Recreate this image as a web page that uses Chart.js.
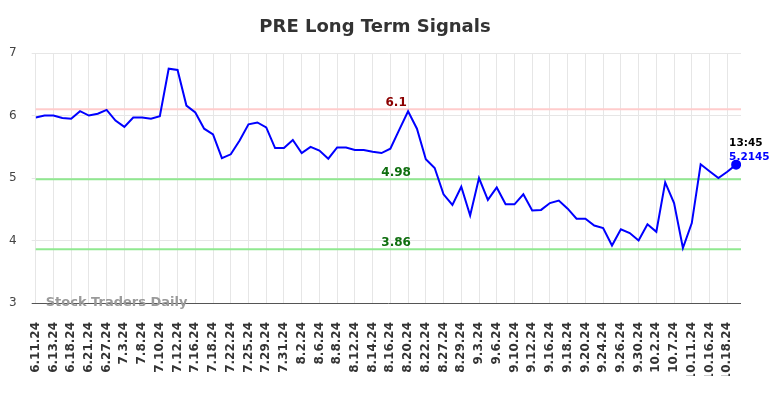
<!DOCTYPE html>
<html>
<head>
<meta charset="utf-8">
<title>PRE Long Term Signals</title>
<script src="https://cdn.jsdelivr.net/npm/chart.js@4.4.1/dist/chart.umd.min.js"></script>
<style>
    html, body { margin: 0; padding: 0; background: #fff; }
</style>
</head>
<body>
<canvas id="signalsChart" width="784" height="398"></canvas>
<script>
// dates for every point; only every second one is printed on the axis
const dates = [
    '6.11.24', '6.12.24', '6.13.24', '6.17.24', '6.18.24', '6.20.24', '6.21.24', '6.25.24',
    '6.27.24', '7.1.24', '7.3.24', '7.5.24', '7.8.24', '7.9.24', '7.10.24', '7.11.24',
    '7.12.24', '7.15.24', '7.16.24', '7.17.24', '7.18.24', '7.19.24', '7.22.24', '7.24.24',
    '7.25.24', '7.26.24', '7.29.24', '7.30.24', '7.31.24', '8.1.24', '8.2.24', '8.5.24',
    '8.6.24', '8.7.24', '8.8.24', '8.9.24', '8.12.24', '8.13.24', '8.14.24', '8.15.24',
    '8.16.24', '8.19.24', '8.20.24', '8.21.24', '8.22.24', '8.26.24', '8.27.24', '8.28.24',
    '8.29.24', '8.30.24', '9.3.24', '9.5.24', '9.6.24', '9.9.24', '9.10.24', '9.11.24',
    '9.12.24', '9.13.24', '9.16.24', '9.17.24', '9.18.24', '9.19.24', '9.20.24', '9.23.24',
    '9.24.24', '9.25.24', '9.26.24', '9.27.24', '9.30.24', '10.1.24', '10.2.24', '10.4.24',
    '10.7.24', '10.9.24', '10.11.24', '10.14.24', '10.16.24', '10.17.24', '10.18.24', '10.21.24'
];

const prices = [
    5.97, 6.00, 6.00, 5.96, 5.95, 6.07, 6.00, 6.03, 6.09, 5.92,
    5.82, 5.97, 5.97, 5.95, 5.99, 6.75, 6.73, 6.16, 6.05, 5.79,
    5.70, 5.32, 5.38, 5.60, 5.86, 5.89, 5.81, 5.48, 5.48, 5.61,
    5.40, 5.50, 5.44, 5.31, 5.49, 5.49, 5.45, 5.45, 5.42, 5.40,
    5.47, 5.77, 6.07, 5.79, 5.30, 5.16, 4.74, 4.57, 4.86, 4.40,
    5.00, 4.65, 4.85, 4.58, 4.58, 4.74, 4.48, 4.49, 4.60, 4.64,
    4.51, 4.35, 4.35, 4.24, 4.20, 3.92, 4.18, 4.12, 4.00, 4.26,
    4.14, 4.93, 4.60, 3.88, 4.28, 5.22, 5.11, 5.00, 5.10, 5.2145
];

const lastTime = '13:45';

// signal levels
const resistanceLevels = [6.1];
const supportLevels = [4.98, 3.86];

const yTicks = [3, 4, 5, 6, 7];

Chart.defaults.font.family = "'DejaVu Sans', sans-serif";

// draws the signal lines, their labels, the last value and the watermark
const signalsPlugin = {
    id: 'signals',
    beforeDatasetsDraw(chart) {
        const { ctx, chartArea, scales } = chart;
        ctx.save();
        ctx.lineWidth = 2;
        const drawLevel = (v, color) => {
            const py = scales.y.getPixelForValue(v);
            ctx.strokeStyle = color;
            ctx.beginPath();
            ctx.moveTo(chartArea.left, py);
            ctx.lineTo(chartArea.right, py);
            ctx.stroke();
        };
        resistanceLevels.forEach(v => drawLevel(v, '#ffcccc'));
        supportLevels.forEach(v => drawLevel(v, '#90e890'));
        ctx.restore();
    },
    afterDatasetsDraw(chart) {
        const { ctx, chartArea, scales } = chart;
        ctx.save();
        ctx.font = "bold 12px 'DejaVu Sans', sans-serif";
        ctx.textAlign = 'center';
        ctx.textBaseline = 'alphabetic';
        const lx = chartArea.left + (chartArea.right - chartArea.left) * 0.511;
        resistanceLevels.forEach(v => {
            ctx.fillStyle = '#8b0000';
            ctx.fillText(String(v), lx, scales.y.getPixelForValue(v) - 3.5);
        });
        supportLevels.forEach(v => {
            ctx.fillStyle = '#0f6e0f';
            ctx.fillText(String(v), lx, scales.y.getPixelForValue(v) - 3.5);
        });

        // last value
        const last = prices.length - 1;
        const px = scales.x.getPixelForValue(last);
        const py = scales.y.getPixelForValue(prices[last]);
        ctx.textAlign = 'left';
        ctx.font = "bold 10.5px 'DejaVu Sans', sans-serif";
        ctx.fillStyle = '#000';
        ctx.fillText(lastTime, px - 7, py - 19);
        ctx.fillStyle = '#0000ff';
        ctx.fillText(String(prices[last]), px - 7, py - 5);

        // watermark
        ctx.font = "bold 13px 'DejaVu Sans', sans-serif";
        ctx.fillStyle = '#9a9a9a';
        ctx.textBaseline = 'middle';
        ctx.fillText('Stock Traders Daily', chartArea.left + 10, chartArea.bottom - 0.5);
        ctx.restore();
    }
};

new Chart(document.getElementById('signalsChart').getContext('2d'), {
    type: 'line',
    data: {
        datasets: [{
            label: 'PRE',
            data: prices.map((p, i) => ({ x: i, y: p })),
            borderColor: '#0000ff',
            backgroundColor: '#0000ff',
            borderWidth: 2,
            tension: 0,
            fill: false,
            pointRadius: ctx => ctx.dataIndex === prices.length - 1 ? 4 : 0,
            pointHoverRadius: 0
        }]
    },
    options: {
        responsive: false,
        animation: false,
        layout: {
            padding: { left: 9, right: 43, top: 0, bottom: 22 }
        },
        plugins: {
            legend: { display: false },
            tooltip: { enabled: false },
            title: {
                display: true,
                text: 'PRE Long Term Signals',
                color: '#333',
                font: { size: 18, weight: 'bold' },
                padding: { top: 17, bottom: 14.5 }
            }
        },
        scales: {
            x: {
                type: 'linear',
                min: 0,
                max: 79.55,
                bounds: 'data',
                grid: { color: '#e6e6e6', drawTicks: false },
                border: { display: false },
                ticks: {
                    stepSize: 2,
                    includeBounds: false,
                    autoSkip: false,
                    maxTicksLimit: 60,
                    minRotation: 90,
                    maxRotation: 90,
                    padding: 19,
                    color: '#333',
                    font: { size: 12, weight: 'bold' },
                    callback: v => dates[v] ?? null
                },
                afterFit(scale) {
                    scale.height = 73;
                    scale.paddingLeft = 0;
                    scale.paddingRight = 0;
                }
            },
            y: {
                min: yTicks[0],
                max: yTicks[yTicks.length - 1],
                grid: {
                    color: ctx => (ctx.tick && ctx.tick.value === yTicks[0]) ? '#555' : '#e6e6e6',
                    tickLength: 4
                },
                border: { display: false },
                ticks: {
                    stepSize: 1,
                    padding: 15,
                    color: '#444',
                    font: { size: 12 }
                },
                afterFit(scale) {
                    scale.width = 26.7;
                    scale.paddingTop = 0;
                    scale.paddingBottom = 0;
                }
            }
        }
    },
    plugins: [signalsPlugin]
});
</script>
</body>
</html>
